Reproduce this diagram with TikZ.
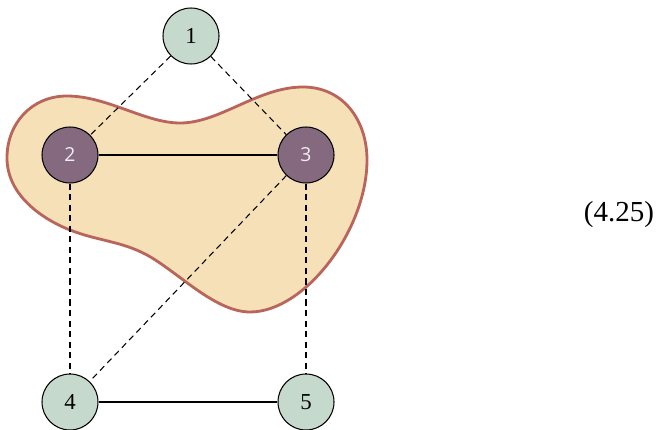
\documentclass[tikz,border=0pt]{standalone}
\usepackage{fontspec}
\setmainfont{Liberation Serif}
\newfontfamily\nodesans{Open Sans}
\definecolor{blobfill}{HTML}{F5E0B7}
\definecolor{blobline}{HTML}{B9655B}
\definecolor{greenv}{HTML}{C5D9CC}
\definecolor{purplev}{HTML}{84697F}
\tikzset{
  vgreen/.style={circle,draw=black,line width=0.6pt,fill=greenv,minimum size=1.12cm,inner sep=0pt,font=\fontsize{13}{15}\selectfont},
  vpurple/.style={circle,draw=black,line width=0.6pt,fill=purplev,minimum size=1.12cm,inner sep=0pt,text=white!88!purplev,font=\nodesans\fontsize{11}{13}\selectfont},
  solidedge/.style={line width=0.6pt},
  dashedge/.style={line width=0.6pt,dash pattern=on 3.5pt off 2.5pt},
}
\begin{document}
\begin{tikzpicture}[x=0.02cm,y=-0.02cm]
\useasboundingbox (0,0) rectangle (662,429);
\draw[fill=blobfill,draw=blobline,line width=1.6pt]
  (7,158) .. controls (7,123) and (32,96) .. (67,96)
  .. controls (107,96) and (145,123) .. (180,123)
  .. controls (220,123) and (258,87) .. (303,87)
  .. controls (343,87) and (367,120) .. (367,160)
  .. controls (367,230) and (305,312) .. (250,312)
  .. controls (215,312) and (178,272) .. (147,255)
  .. controls (121,241) and (98,241) .. (70,230)
  .. controls (42,219) and (7,195) .. cycle;
\node[vgreen] (n1) at (191,36) {1};
\node[vpurple] (n2) at (70,155) {2};
\node[vpurple] (n3) at (306,155) {3};
\node[vgreen] (n4) at (70,402) {4};
\node[vgreen] (n5) at (306,402) {5};
\draw[dashedge] (n1) -- (n2);
\draw[dashedge] (n1) -- (n3);
\draw[solidedge] (n2) -- (n3);
\draw[dashedge] (n2) -- (n4);
\draw[dashedge] (n3) -- (n4);
\draw[dashedge] (n3) -- (n5);
\draw[solidedge] (n4) -- (n5);
\node[font=\fontsize{16.5}{18}\selectfont] (eq) at (619,215) {(4.25)};
\end{tikzpicture}
\end{document}
